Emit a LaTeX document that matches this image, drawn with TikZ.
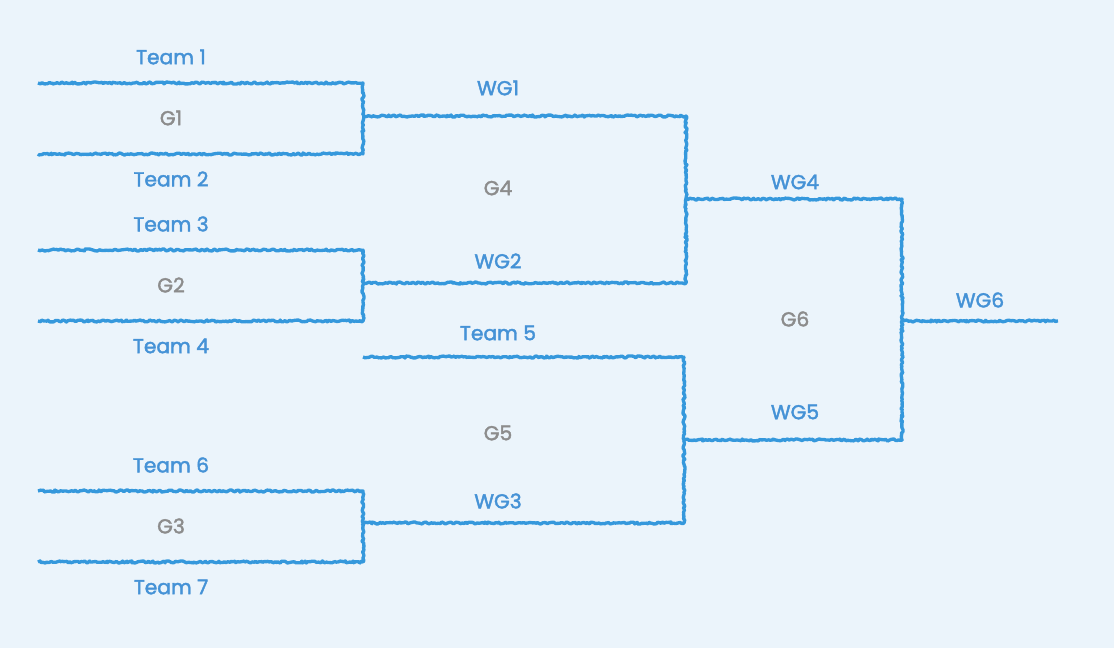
\documentclass[tikz,border=0pt]{standalone}
\usepackage{fontspec}
\setmainfont{Poppins}[FakeBold=2]
\usepackage{tikz}
\usetikzlibrary{decorations.pathmorphing}
\definecolor{bgblue}{HTML}{EBF4FB}
\definecolor{lineblue}{HTML}{3598DC}
\definecolor{textblue}{HTML}{4592D6}
\definecolor{textgrey}{HTML}{8C8C8C}
\begin{document}
\begin{tikzpicture}[x=0.02cm,y=-0.02cm,
	bracket/.style={lineblue,line width=1.9pt,line join=round,
		decorate,decoration={random steps,segment length=1pt,amplitude=0.6pt}},
	team/.style={text=textblue,font=\fontsize{11.5}{13}\selectfont},
	game/.style={text=textgrey,font=\fontsize{11.5}{13}\selectfont}]
			% Background
			\fill[bgblue] (0,0) rectangle (1114,648);
			\useasboundingbox (0,0) rectangle (1114,648);
			
			% First round end points
			\coordinate (t1) at (38,83);   \coordinate (t1e) at (363,83);
			\coordinate (t2) at (38,154);  \coordinate (t2e) at (363,154);
			\coordinate (t3) at (38,250);  \coordinate (t3e) at (363,250);
			\coordinate (t4) at (38,321);  \coordinate (t4e) at (363,321);
			\coordinate (t6) at (38,491);  \coordinate (t6e) at (363,491);
			\coordinate (t7) at (38,562);  \coordinate (t7e) at (363,562);
			
			% Second round end points
			\coordinate (wg1) at (363,116); \coordinate (wg1e) at (686,116);
			\coordinate (wg2) at (363,283); \coordinate (wg2e) at (686,283);
			\coordinate (t5) at (363,357);  \coordinate (t5e) at (684,357);
			\coordinate (wg3) at (363,523); \coordinate (wg3e) at (684,523);
			
			% Semi-final and final end points
			\coordinate (wg4) at (686,199); \coordinate (wg4e) at (902,199);
			\coordinate (wg5) at (684,440); \coordinate (wg5e) at (902,440);
			\coordinate (wg6) at (902,321); \coordinate (wg6e) at (1058,321);
			
			% Draw the bracket
			\draw[bracket] (t1) -- (t1e) -- (t2e) -- (t2);
			\draw[bracket] (t3) -- (t3e) -- (t4e) -- (t4);
			\draw[bracket] (t6) -- (t6e) -- (t7e) -- (t7);
			\draw[bracket] (wg1) -- (wg1e) -- (wg2e) -- (wg2);
			\draw[bracket] (t5) -- (t5e) -- (wg3e) -- (wg3);
			\draw[bracket] (wg4) -- (wg4e) -- (wg5e) -- (wg5);
			\draw[bracket] (wg6) -- (wg6e);
			
			% Team labels
			\node[team] (team1) at (171,57) {Team 1};
			\node[team] (team2) at (171,179) {Team 2};
			\node[team] (team3) at (171,224) {Team 3};
			\node[team] (team4) at (171,346) {Team 4};
			\node[team] (team5) at (498,333) {Team 5};
			\node[team] (team6) at (171,465) {Team 6};
			\node[team] (team7) at (171,587) {Team 7};
			\node[team] (lwg1) at (498,88) {WG1};
			\node[team] (lwg2) at (498,261) {WG2};
			\node[team] (lwg3) at (498,501) {WG3};
			\node[team] (lwg4) at (795,182) {WG4};
			\node[team] (lwg5) at (795,412) {WG5};
			\node[team] (lwg6) at (980,300) {WG6};
			
			% Game labels
			\node[game] (g1) at (171,118) {G1};
			\node[game] (g2) at (171,285) {G2};
			\node[game] (g3) at (171,526) {G3};
			\node[game] (g4) at (498,188) {G4};
			\node[game] (g5) at (498,433) {G5};
			\node[game] (g6) at (795,319) {G6};
		\end{tikzpicture}
\end{document}
